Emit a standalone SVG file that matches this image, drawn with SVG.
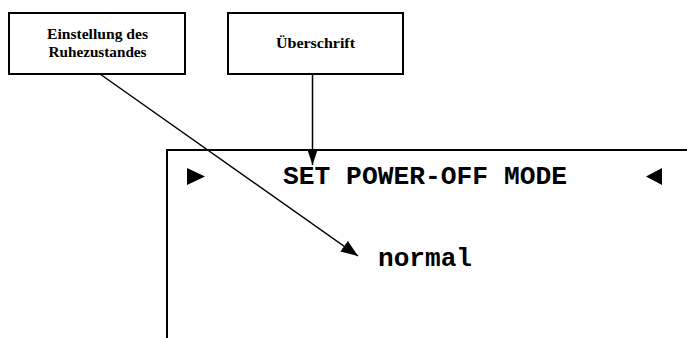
<svg xmlns="http://www.w3.org/2000/svg" width="687" height="338" viewBox="0 0 687 338">
  <style>
    .box { fill: #fff; stroke: #000; stroke-width: 2; }
    .label { font-family: "Liberation Serif", serif; font-weight: bold; font-size: 14.5px; fill: #000; text-anchor: middle; }
    .mono { font-family: "Liberation Mono", monospace; font-weight: bold; font-size: 26px; fill: #000; }
    .wire { stroke: #000; stroke-width: 1.5; fill: none; }
  </style>
  <defs>
    <marker id="arrow" viewBox="0 0 10 10" refX="10" refY="5" markerWidth="15" markerHeight="10" markerUnits="userSpaceOnUse" orient="auto" preserveAspectRatio="none">
      <path d="M0,0 L10,5 L0,10 Z" fill="#000"/>
    </marker>
    <marker id="arrowBig" viewBox="0 0 10 10" refX="10" refY="5" markerWidth="17" markerHeight="13" markerUnits="userSpaceOnUse" orient="auto" preserveAspectRatio="none">
      <path d="M0,0 L10,5 L0,10 Z" fill="#000"/>
    </marker>
  </defs>
  <rect width="687" height="338" fill="#fff"/>

  <!-- display frame -->
  <g id="display">
    <path d="M167,338 V150 H687" fill="none" stroke="#000" stroke-width="2"/>
    <path d="M187,168 L205,176.5 L187,185 Z" fill="#000"/>
    <path d="M662,168 L646,176.5 L662,185 Z" fill="#000"/>
    <text class="mono" x="283" y="184" textLength="284" lengthAdjust="spacingAndGlyphs">SET POWER-OFF MODE</text>
    <text class="mono" x="378" y="266" textLength="94" lengthAdjust="spacingAndGlyphs">normal</text>
  </g>

  <g id="node-ruhezustand">
    <rect class="box" x="9" y="13" width="176" height="61"/>
    <text class="label" x="97.5" y="38.5" textLength="101" lengthAdjust="spacingAndGlyphs">Einstellung des</text>
    <text class="label" x="97.5" y="57" textLength="98" lengthAdjust="spacingAndGlyphs">Ruhezustandes</text>
  </g>

  <g id="node-ueberschrift">
    <rect class="box" x="228" y="13" width="175" height="61"/>
    <text class="label" x="315.5" y="48" textLength="79" lengthAdjust="spacingAndGlyphs">Überschrift</text>
  </g>

  <g id="connectors">
    <line class="wire" x1="100" y1="74" x2="358" y2="256" marker-end="url(#arrowBig)"/>
    <line class="wire" x1="312.5" y1="74" x2="312.5" y2="165" marker-end="url(#arrow)"/>
  </g>
</svg>
